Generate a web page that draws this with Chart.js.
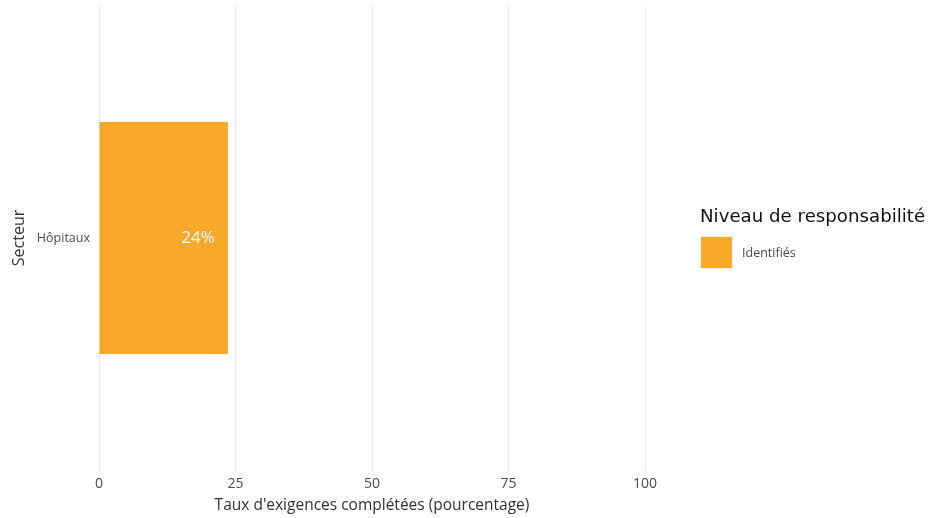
<!DOCTYPE html>
<html>
<head>
<meta charset="utf-8">
<script src="https://cdn.jsdelivr.net/npm/chart.js@4"></script>
<style>
  html, body { margin: 0; padding: 0; background: #fff; }
  #wrap { width: 946px; height: 518px; }
</style>
</head>
<body>
<div id="wrap"><canvas id="chart"></canvas></div>
<script>
// data
const secteurs = ['Hôpitaux'];
const identifies = [23.6];
const xTicks = [0, 25, 50, 75, 100];
const legendTitle = 'Niveau de responsabilité';
const seriesLabel = 'Identifiés';

const orange = '#F9A92A';
const bodyFont = "'Open Sans', sans-serif";

// value labels inside the bars
const barLabels = {
    id: 'barLabels',
    afterDatasetsDraw(chart) {
        const ctx = chart.ctx;
        const meta = chart.getDatasetMeta(0);
        ctx.save();
        ctx.fillStyle = '#ffffff';
        ctx.font = '400 17px ' + bodyFont;
        ctx.textAlign = 'right';
        ctx.textBaseline = 'middle';
        meta.data.forEach((bar, i) => {
            const v = chart.data.datasets[0].data[i];
            ctx.fillText(Math.round(v) + '%', bar.x - 13, bar.y);
        });
        ctx.restore();
    }
};

// legend drawn on the right, like the original
const sideLegend = {
    id: 'sideLegend',
    afterDraw(chart) {
        const ctx = chart.ctx;
        const ds = chart.data.datasets[0];
        const x = 700;
        ctx.save();
        ctx.fillStyle = '#111';
        ctx.font = '18.2px "DejaVu Sans"';
        ctx.textBaseline = 'middle';
        ctx.textAlign = 'left';
        ctx.fillText(legendTitle, x, 217);
        ctx.fillStyle = '#f2f2f2';
        ctx.fillRect(x, 236, 33, 33);
        ctx.fillStyle = ds.backgroundColor;
        ctx.fillRect(x + 1, 237, 31, 31);
        ctx.fillStyle = '#4d4d4d';
        ctx.font = '400 12.5px ' + bodyFont;
        ctx.fillText(ds.label, 742, 253);
        ctx.restore();
    }
};

new Chart(document.getElementById('chart'), {
    type: 'bar',
    data: {
        labels: secteurs,
        datasets: [{
            label: seriesLabel,
            data: identifies,
            backgroundColor: orange,
            borderWidth: 0,
            barPercentage: 0.5,
            categoryPercentage: 1
        }]
    },
    options: {
        indexAxis: 'y',
        responsive: true,
        maintainAspectRatio: false,
        animation: false,
        layout: { padding: { top: 6, right: 301, left: 0, bottom: 0 } },
        plugins: {
            legend: { display: false },
            tooltip: { enabled: false }
        },
        scales: {
            x: {
                min: 0,
                max: 100,
                afterBuildTicks: s => { s.ticks = xTicks.map(v => ({ value: v })); },
                afterFit: s => { s.height = 48; s.paddingLeft = 0; s.paddingRight = 0; },
                grid: { color: '#ebebeb', drawTicks: false },
                border: { display: false },
                ticks: {
                    color: '#4d4d4d',
                    padding: 6,
                    font: { family: bodyFont, size: 14, weight: 400 }
                },
                title: {
                    display: true,
                    text: "Taux d'exigences complétées (pourcentage)",
                    color: '#333',
                    padding: { top: 0, bottom: 3 },
                    font: { family: bodyFont, size: 15.5, weight: 400 }
                }
            },
            y: {
                afterFit: s => { s.width = 99; s.paddingTop = 0; s.paddingBottom = 0; },
                grid: { display: false, drawTicks: false },
                border: { display: false },
                ticks: {
                    color: '#4d4d4d',
                    padding: 9,
                    font: { family: bodyFont, size: 12.5, weight: 400 }
                },
                title: {
                    display: true,
                    text: 'Secteur',
                    color: '#333',
                    padding: { top: 10, bottom: 0 },
                    font: { family: bodyFont, size: 16, weight: 400 }
                }
            }
        }
    },
    plugins: [barLabels, sideLegend]
});
</script>
</body>
</html>
